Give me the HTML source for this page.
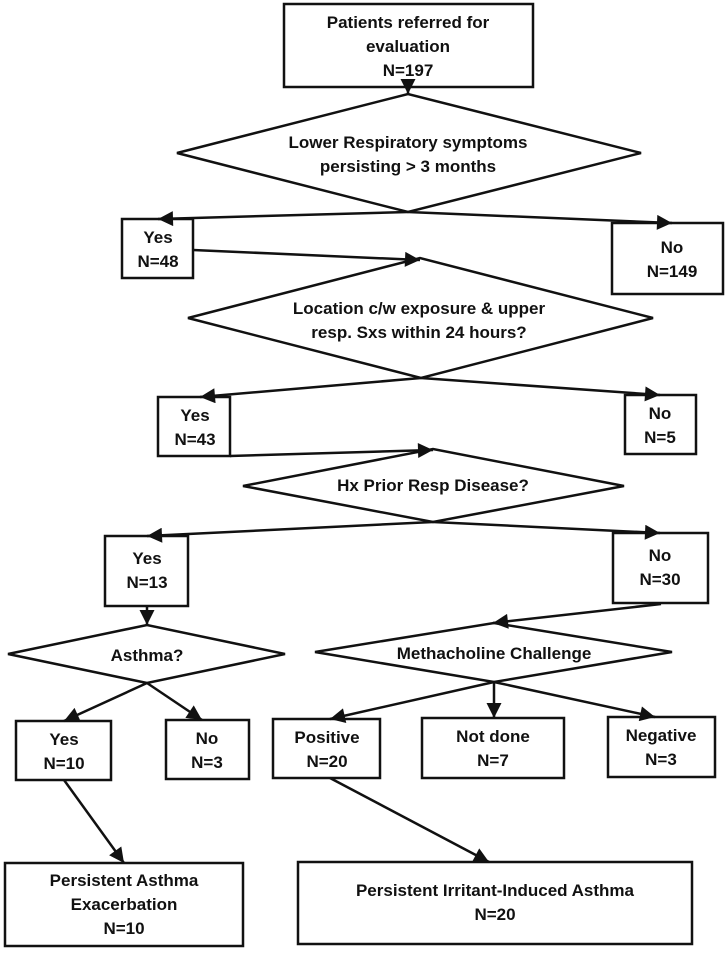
<!DOCTYPE html>
<html><head><meta charset="utf-8"><style>
html,body{margin:0;padding:0;background:#fff;}
svg{display:block;}
text{font-family:"Liberation Sans",sans-serif;font-weight:bold;font-size:17px;fill:#111;text-anchor:middle;}
</style></head><body>
<svg width="726" height="953" viewBox="0 0 726 953" xmlns="http://www.w3.org/2000/svg">
<defs>
<marker id="a" viewBox="0 0 10 10" refX="10" refY="5" markerWidth="7" markerHeight="6" orient="auto" markerUnits="strokeWidth">
<path d="M0,0 L10,5 L0,10 z" fill="#111"/></marker>
</defs>
<g fill="none" stroke="#111" stroke-width="2.5">
<rect x="284" y="4" width="249" height="83"/>
<polygon points="177,153 408,94 641,153 408,212"/>
<rect x="122" y="219" width="71" height="59"/>
<rect x="612" y="223" width="111" height="71"/>
<polygon points="188,318 420,258 653,318 421,378"/>
<rect x="158" y="397" width="72" height="59"/>
<rect x="625" y="395" width="71" height="59"/>
<polygon points="243,486 433,449 624,486 433,522"/>
<rect x="105" y="536" width="83" height="70"/>
<rect x="613" y="533" width="95" height="70"/>
<polygon points="8,654 147,625 285,654 147,683"/>
<polygon points="315,652 494,623 672,652 494,682"/>
<rect x="16" y="721" width="95" height="59"/>
<rect x="166" y="720" width="83" height="59"/>
<rect x="273" y="719" width="107" height="59"/>
<rect x="422" y="718" width="142" height="60"/>
<rect x="608" y="717" width="107" height="60"/>
<rect x="5" y="863" width="238" height="83"/>
<rect x="298" y="862" width="394" height="82"/>
</g>
<g fill="none" stroke="#111" stroke-width="2.5" marker-end="url(#a)">
<line x1="408" y1="87" x2="408" y2="94"/>
<line x1="408" y1="212" x2="158" y2="219"/>
<line x1="408" y1="212" x2="672" y2="223"/>
<line x1="193" y1="250" x2="420" y2="260"/>
<line x1="421" y1="378" x2="200" y2="397"/>
<line x1="421" y1="378" x2="660" y2="395"/>
<line x1="230" y1="456" x2="433" y2="450"/>
<line x1="433" y1="522" x2="147" y2="536"/>
<line x1="433" y1="522" x2="660" y2="533"/>
<line x1="147" y1="606" x2="147" y2="625"/>
<line x1="661" y1="604" x2="493" y2="623"/>
<line x1="147" y1="683" x2="64" y2="721"/>
<line x1="147" y1="683" x2="202" y2="720"/>
<line x1="494" y1="682" x2="330" y2="719"/>
<line x1="494" y1="682" x2="494" y2="718"/>
<line x1="494" y1="682" x2="655" y2="717"/>
<line x1="64" y1="780" x2="124" y2="863"/>
<line x1="330" y1="778" x2="489" y2="862"/>
</g>
<text x="408" y="28">Patients referred for</text>
<text x="408" y="52">evaluation</text>
<text x="408" y="76">N=197</text>
<text x="408" y="148">Lower Respiratory symptoms</text>
<text x="408" y="172">persisting &gt; 3 months</text>
<text x="158" y="243">Yes</text>
<text x="158" y="267">N=48</text>
<text x="672" y="253">No</text>
<text x="672" y="277">N=149</text>
<text x="419" y="314">Location c/w exposure &amp; upper</text>
<text x="419" y="338">resp. Sxs within 24 hours?</text>
<text x="195" y="421">Yes</text>
<text x="195" y="445">N=43</text>
<text x="660" y="419">No</text>
<text x="660" y="443">N=5</text>
<text x="433" y="491">Hx Prior Resp Disease?</text>
<text x="147" y="564">Yes</text>
<text x="147" y="588">N=13</text>
<text x="660" y="561">No</text>
<text x="660" y="585">N=30</text>
<text x="147" y="661">Asthma?</text>
<text x="494" y="659">Methacholine Challenge</text>
<text x="64" y="745">Yes</text>
<text x="64" y="769">N=10</text>
<text x="207" y="744">No</text>
<text x="207" y="768">N=3</text>
<text x="327" y="743">Positive</text>
<text x="327" y="767">N=20</text>
<text x="493" y="742">Not done</text>
<text x="493" y="766">N=7</text>
<text x="661" y="741">Negative</text>
<text x="661" y="765">N=3</text>
<text x="124" y="886">Persistent Asthma</text>
<text x="124" y="910">Exacerbation</text>
<text x="124" y="934">N=10</text>
<text x="495" y="896">Persistent Irritant-Induced Asthma</text>
<text x="495" y="920">N=20</text>
</svg>
</body></html>
